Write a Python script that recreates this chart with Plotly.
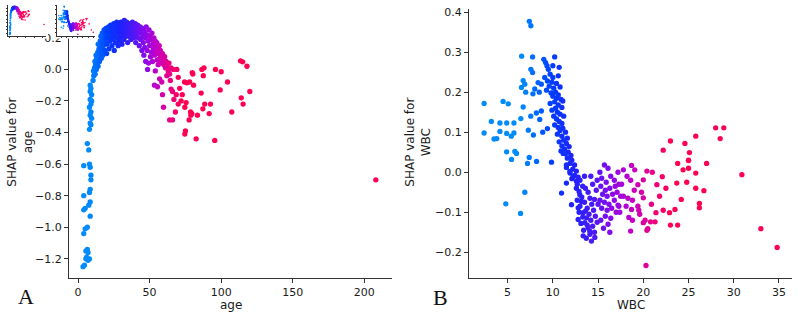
import plotly.graph_objects as go

W, H = 799, 314

# ---------------- data ----------------
age_column = [(3.5,-1.25),(4.5,-1.24),(5.5,-1.2),(7,-1.21),(6,-1.19),(8,-1.2),(5.5,-1.15),(7,-1.16),(6.5,-1.14),
    (4,-1.04),(5,-1.01),(6.5,-1.0),(8.5,-0.93),(4,-0.89),(5,-0.88),(7.5,-0.86),(8.5,-0.84),(4,-0.80),(8,-0.78),
    (8.5,-0.76),(9,-0.70),(9,-0.67),(8.5,-0.62),(4,-0.61),(8,-0.60),(7.5,-0.51),(6.5,-0.47),(8,-0.38),(9,-0.35),
    (8.5,-0.34),(9.5,-0.31),(8.5,-0.29),(9,-0.27),(8,-0.24),(9,-0.22),(9.5,-0.2),(8.5,-0.19),(9.5,-0.16),
    (8.5,-0.14),(9,-0.12),(8.5,-0.1)]

age_arch = [(10.5,-0.07),(11.0,-0.04),(10.8,-0.01),(11.5,0.01),(12.0,-0.03),(12.2,0.03),(11.8,0.05),(12.8,0.0),
    (13.0,0.07),(12.6,0.09),(13.4,0.04),(13.8,0.11),(14.0,0.02),(14.3,0.08),(14.6,0.13),(14.1,0.16),(15.0,0.05),
    (15.2,0.1),(15.5,0.18),(15.8,0.14),(16.0,0.21),(16.3,0.07),(16.5,0.12),(16.8,0.17),
    (17.0,0.23),(17.3,0.09),(17.6,0.15),(18.0,0.2),(18.2,0.25),(18.6,0.12),(19.0,0.18),(19.3,0.22),(19.5,0.26),
    (20.0,0.1),(20.2,0.16),(20.6,0.24),(21.0,0.2),(21.3,0.27),(21.6,0.13),(22.0,0.23),(22.4,0.18),(22.8,0.28),
    (23.0,0.21),(23.3,0.25),(23.7,0.15),(24.0,0.27),(24.3,0.19),(24.6,0.23),(25.0,0.29),(25.3,0.12),(25.5,0.26),
    (25.8,0.21),(26.2,0.17),(26.5,0.24),(26.8,0.28),(27.0,0.3),(27.3,0.2),(27.7,0.26),(28.0,0.15),(28.3,0.23),
    (28.6,0.29),(29.0,0.18),(29.2,0.25),(29.5,0.27),(29.8,0.21),(30.0,0.3),(30.4,0.24),(30.7,0.16),(31.0,0.28),
    (31.3,0.22),(31.6,0.26),(32.0,0.19),(32.3,0.31),(32.6,0.24),(33.0,0.28),(33.3,0.21),(33.6,0.26),(34.0,0.3),
    (34.3,0.23),(34.7,0.17),(35.0,0.27),(35.3,0.25),(35.6,0.21),(36.0,0.29),(36.3,0.23),(36.6,0.26),(37.0,0.19),
    (37.3,0.28),(37.7,0.24),(38.0,0.3),(38.3,0.22),(38.6,0.26),(39.0,0.2),(39.3,0.27),(39.7,0.24),(40.0,0.29),
    (40.3,0.17),(40.6,0.22),(41.0,0.26),(41.3,0.24),(41.7,0.28),(42.0,0.2),(42.4,0.25),(42.8,0.15),(43.0,0.23),
    (43.4,0.27),(43.8,0.19),(44.2,0.24),(44.6,0.12),
    (45.0,0.26),(45.3,0.21),(45.6,0.17),(46.0,0.09),(46.3,0.24),(46.6,0.14),(47.0,0.2),(47.3,0.05),(47.6,0.27),
    (48.0,0.22),(48.3,0.12),(48.6,0.0),(49.0,0.18),(49.3,0.04),(49.6,0.25),(50.0,0.15),(50.3,0.21),(50.6,0.08),
    (51.0,0.19),(51.3,0.11),(51.6,0.23),(52.0,0.05),(52.3,0.16),(52.6,0.13),(53.0,0.2),(53.4,0.09),(53.8,0.18),
    (54.0,-0.01),(54.3,0.14),(54.7,0.11),(55.0,0.17),(55.3,0.06),(55.7,0.13),(56.0,0.03),(56.3,0.1),(56.7,0.15),
    (57.0,0.07),(57.5,0.12),(58.0,0.04),(58.4,0.09),(59.0,0.1),(59.5,0.06),(60.0,0.03),(60.5,0.08),(61.0,0.01),
    (61.5,0.05),(62.0,0.02),(63.0,-0.01),(63.5,0.04),(65.0,0.01)]

age_tail = [(72.8,-0.16),(74.4,-0.08),(76,-0.085),(78,-0.08),(79.8,-0.02),(80.2,-0.03),(80.7,-0.10),(75.5,-0.21),
    (74.6,-0.24),(78.6,-0.27),(78.8,-0.29),(79.5,-0.28),(77.6,-0.32),(74.6,-0.41),(82.5,-0.44),(95.5,-0.45),
    (83.4,-0.29),(86,-0.15),(86.5,0.0),(88,0.01),(87.5,-0.04),(88.5,-0.22),(87.2,-0.25),(92.5,-0.22),(91.6,-0.28),
    (96,0.0),(100,-0.015),(104.4,-0.08),(99.3,-0.13),(107.4,-0.27),(113.5,0.054),(115,0.048),(118,0.02),
    (120,-0.14),(114,-0.18),(115.3,-0.22),(53.4,-0.10),(59.7,-0.24),(64,-0.32),(66,-0.32),(68,-0.27),(75,-0.39),
    (57,-0.06),(58.5,-0.08),(65,-0.125),(66,-0.14),(68.6,-0.16),(64,-0.03),(64.5,-0.07),(62,-0.04),(66.5,0.0),
    (70,-0.05),(71,-0.12),(69,0.0),(72,-0.2),(67,-0.19),(70,-0.22),(59,-0.16),(55.5,-0.11),(208,-0.70)]

wbc_light = [(2.4,0.172),(4.5,0.177),(5.07,0.171),(3.2,0.127),(4.15,0.123),(4.9,0.123),(5.7,0.123),(2.4,0.098),
    (4.15,0.102),(4.9,0.097),(5.4,0.09),(5.7,0.098),(3.5,0.083),(3.8,0.084),(6.72,0.163),(4.89,0.051),(5.8,0.052),
    (5.98,0.047),(5.43,0.032),(7.39,0.037),(8.2,0.027),(7.2,0.022),(9.85,0.025),(6.9,-0.05),(4.8,-0.079),
    (6.43,-0.103),(6.55,0.29),(7.76,0.288),(7.4,0.377),(7.57,0.366),(7.57,0.257),(7.76,0.249),(6.72,0.229),
    (6.9,0.22),(6.53,0.212),(7.0,0.2),(8.37,0.224),(8.73,0.22),(8.0,0.208),(8.5,0.2),(7.8,0.196),(6.46,0.134),
    (7.56,0.14),(8.18,0.148),(8.73,0.153),(8.55,0.132),(7.29,0.105),(7.85,0.093),(8.88,0.1),(9.4,0.109)]

wbc_column = [(9.0,0.282),(9.2,0.274),(9.35,0.266),(9.5,0.257),(10.2,0.288),(10.7,0.262),(10.0,0.266),(9.7,0.245),
    (9.1,0.237),(10.0,0.237),(10.6,0.241),(9.4,0.228),(9.9,0.225),(10.4,0.222),(9.6,0.215),(10.1,0.21),(10.8,0.213),
    (9.3,0.205),(10.3,0.2),(9.8,0.198),(10.6,0.193),(10.0,0.19),(10.4,0.185),(10.9,0.182),(10.2,0.176),(11.1,0.178),
    (9.7,0.172),(10.6,0.168),(10.3,0.16),(11.0,0.162),(9.9,0.155),(10.5,0.15),(10.8,0.145),(10.1,0.14),(11.2,0.14),
    (10.4,0.133),(10.7,0.127),(11.0,0.122),(10.2,0.118),(10.6,0.112),(11.1,0.11),(10.8,0.104),(11.4,0.1),
    (10.5,0.095),(11.0,0.09),(11.6,0.085),(11.2,0.08),(10.7,0.076),(11.5,0.072),(11.0,0.066),(11.8,0.064),
    (11.3,0.058),(10.9,0.053),(11.7,0.05),(11.4,0.046),(12.0,0.042),(11.6,0.035),(12.1,0.03),(11.9,0.022),
    (12.4,0.018),(11.5,0.012),(12.2,0.008),(12.6,0.003),(11.9,-0.002),(12.4,-0.008),(12.8,-0.012),(12.1,-0.016),
    (12.6,-0.022),(11.14,0.047),(11.5,0.018),(11.88,0.002),(12.24,-0.011),(11.5,-0.027),(10.96,-0.052),
    (12.06,-0.081),(12.6,-0.04),(12.98,-0.056),(13.17,-0.073),(12.8,-0.089),(13.35,-0.101),(13.72,-0.114),
    (13.53,-0.126),(13.9,-0.139),(14.08,-0.147),(14.27,-0.172),(14.64,-0.163),(13.35,-0.159)]

wbc_cluster = [(12.7,-0.03),(13.0,-0.02),(13.3,-0.035),(12.9,-0.048),(13.6,-0.04),(13.2,-0.062),(13.9,-0.05),
    (12.7,-0.07),(13.5,-0.075),(14.1,-0.065),(13.0,-0.085),(13.8,-0.09),(14.3,-0.08),(12.9,-0.1),(13.6,-0.097),
    (14.0,-0.105),(14.5,-0.095),(13.3,-0.112),(14.2,-0.12),(14.7,-0.11),(13.1,-0.128),(13.8,-0.132),(14.4,-0.135),
    (12.8,-0.118),(14.9,-0.125),(13.4,-0.145),(14.1,-0.155),(14.6,-0.15),(13.7,-0.165),(14.4,-0.03),(14.8,-0.045),
    (14.6,-0.068),(15.0,-0.08),(14.2,-0.01),(13.5,-0.01),(14.9,-0.02),
    (15.2,0.0),(15.7,0.018),(16.1,0.01),(15.4,-0.015),(15.9,-0.025),(16.4,-0.01),(16.8,-0.02),(15.3,-0.035),
    (15.8,-0.045),(16.3,-0.04),(16.9,-0.035),(17.3,-0.03),(15.5,-0.055),(16.0,-0.06),(16.6,-0.055),(17.1,-0.05),
    (15.2,-0.07),(15.7,-0.075),(16.2,-0.08),(16.8,-0.07),(17.5,-0.06),(15.4,-0.09),(16.0,-0.095),(16.5,-0.09),
    (17.0,-0.1),(15.8,-0.11),(16.4,-0.115),(15.3,-0.12),(16.1,-0.13),(15.6,-0.14),(16.3,-0.15),(17.3,-0.085),
    (17.8,0.006),(17.6,-0.03),(17.2,0.0)]

wbc_high = [(18.7,0.017),(19.05,0.006),(18.2,-0.01),(18.6,-0.02),(19.4,-0.031),(20.0,-0.019),(17.8,-0.06),
    (18.3,-0.065),(18.8,-0.07),(20.0,-0.064),(19.4,-0.085),(19.5,-0.095),(19.6,-0.105),(18.1,-0.085),(18.7,-0.093),
    (17.2,-0.082),(17.4,-0.1),(20.2,-0.12),(20.0,-0.126),(18.4,-0.113),(18.8,-0.12),(18.6,-0.147),(20.4,0.003),
    (19.0,-0.045),(19.8,-0.05),(20.5,-0.141),(20.4,-0.145),(20.3,-0.233),(20.8,-0.124),(21.3,-0.124),
    (22.1,-0.011),(21.5,-0.031),(22.5,-0.04),(23.8,0.022),(25.0,0.029),(25.0,0.01),(24.4,0.006),(25.8,-0.002),
    (27.0,0.022),(23.7,-0.027),(24.8,-0.025),(25.8,-0.04),(26.7,-0.046),(24.2,-0.068),(26.2,-0.078),(26.2,-0.089),
    (23.5,-0.093),(22.9,-0.101),(22.2,-0.095),(21.4,-0.101),(23.0,-0.132),(23.8,-0.132),(30.9,-0.006),
    (33.0,-0.141),(34.8,-0.188),(28.0,0.111),(28.9,0.111),(28.5,0.084),(25.8,0.09),(23.0,0.078),(24.6,0.072),
    (22.2,0.055),(25.1,0.049),(25.0,0.03),(21.0,0.0),(21.8,-0.06),(20.9,-0.08)]

age_ticks = [0, 50, 100, 150, 200]
age_yticks = [-1.2, -1.0, -0.8, -0.6, -0.4, -0.2, 0.0, 0.2]
wbc_ticks = [5, 10, 15, 20, 25, 30, 35]
wbc_yticks = [-0.2, -0.1, 0.0, 0.1, 0.2, 0.3, 0.4]

# ---------------- build ----------------
age_pts = age_column + age_arch + age_tail
wbc_pts = wbc_light + wbc_column + wbc_cluster + wbc_high
ax_ = [p[0] for p in age_pts]; ay_ = [p[1] for p in age_pts]
wx_ = [p[0] for p in wbc_pts]; wy_ = [p[1] for p in wbc_pts]

shap_scale = [[0.0, "rgb(0,139,250)"], [0.1, "rgb(0,105,255)"], [0.2, "rgb(0,62,255)"],
              [0.35, "rgb(30,35,252)"], [0.48, "rgb(75,25,248)"], [0.6, "rgb(135,10,235)"],
              [0.74, "rgb(195,0,200)"], [0.88, "rgb(235,0,130)"], [1.0, "rgb(255,0,82)"]]

def px(x): return x / W
def py(y): return 1 - y / H

fig = go.Figure()

def scat(x, y, xa, ya, cmin, cmax, size):
    fig.add_trace(go.Scatter(x=x, y=y, mode="markers", xaxis=xa, yaxis=ya, hoverinfo="skip",
        marker=dict(size=size, color=x, colorscale=shap_scale, cmin=cmin, cmax=cmax, line=dict(width=0))))

# main panels
scat(ax_, ay_, "x", "y", 8, 72, 5.3)
scat(wx_, wy_, "x2", "y2", 6.5, 23, 5.3)

# thumbnails: white backgrounds then mini plots
for xa, ya in (("x3", "y3"), ("x5", "y5")):
    fig.add_trace(go.Scatter(x=[0, 1, 1, 0, 0], y=[0, 0, 1, 1, 0], mode="lines", fill="toself",
        fillcolor="white", line=dict(width=0, color="white"), xaxis=xa, yaxis=ya, hoverinfo="skip"))
scat(ax_, ay_, "x4", "y4", 8, 72, 1.6)
scat(wx_, wy_, "x6", "y6", 6.5, 23, 1.6)

axcol = "#333333"
tickfont = dict(family="DejaVu Sans", size=11, color="#1a1a1a")
common = dict(showgrid=False, zeroline=False, showline=True, linecolor=axcol, linewidth=1,
              ticks="outside", ticklen=4, tickwidth=1, tickcolor=axcol, tickfont=tickfont)
ydom = [py(277.7), py(6)]

layout = dict(
    width=W, height=H, margin=dict(l=0, r=0, t=0, b=0), autosize=False,
    paper_bgcolor="white", plot_bgcolor="rgba(0,0,0,0)", showlegend=False,
    xaxis=dict(domain=[px(69), px(392)], range=[-6.3, 219.3], tickvals=age_ticks, anchor="y", **common),
    yaxis=dict(domain=ydom, range=[-1.322, 0.383], tickvals=age_yticks, tickformat=".1f", anchor="x", **common),
    xaxis2=dict(domain=[px(469), px(792)], range=[0.73, 36.44], tickvals=wbc_ticks, anchor="y2", **common),
    yaxis2=dict(domain=ydom, range=[-0.2644, 0.408], tickvals=wbc_yticks, tickformat=".1f", anchor="x2", **common),
)
hidden = dict(visible=False, range=[0, 1], fixedrange=True)
layout["xaxis3"] = dict(domain=[px(0), px(48)], anchor="y3", **hidden)
layout["yaxis3"] = dict(domain=[py(36), py(0)], anchor="x3", **hidden)
layout["xaxis5"] = dict(domain=[px(52), px(97)], anchor="y5", **hidden)
layout["yaxis5"] = dict(domain=[py(36), py(0)], anchor="x5", **hidden)
mini = dict(showgrid=False, zeroline=False, showline=True, linecolor=axcol, linewidth=0.6,
            ticks="outside", ticklen=1.5, tickwidth=0.5, tickcolor=axcol, showticklabels=False)
layout["xaxis4"] = dict(domain=[px(8), px(46)], range=[-6.3, 219.3], tickvals=age_ticks, anchor="y4", **mini)
layout["yaxis4"] = dict(domain=[py(33), py(2)], range=[-1.322, 0.383], tickvals=age_yticks, anchor="x4", **mini)
layout["xaxis6"] = dict(domain=[px(57), px(95)], range=[0.73, 36.44], tickvals=wbc_ticks, anchor="y6", **mini)
layout["yaxis6"] = dict(domain=[py(33), py(2)], range=[-0.2644, 0.408], tickvals=wbc_yticks, anchor="x6", **mini)
fig.update_layout(**layout)

lab = dict(family="DejaVu Sans", size=12, color="#1a1a1a")
serif = dict(family="Liberation Serif", size=22, color="#111111")
ann = [
    dict(text="SHAP value for<br>age", x=px(20), y=py(141), textangle=-90, font=lab),
    dict(text="SHAP value for<br>WBC", x=px(418), y=py(141), textangle=-90, font=lab),
    dict(text="age", x=px(230.5), y=py(305), font=lab),
    dict(text="WBC", x=px(630.5), y=py(305), font=lab),
    dict(text="A", x=px(26), y=py(296), font=serif),
    dict(text="B", x=px(440), y=py(297), font=serif),
]
for a in ann:
    fig.add_annotation(xref="paper", yref="paper", showarrow=False, xanchor="center", yanchor="middle", **a)

fig.write_html("out.html", config={"displayModeBar": False},
               post_script="document.body.style.margin='0';document.body.style.padding='0';")
